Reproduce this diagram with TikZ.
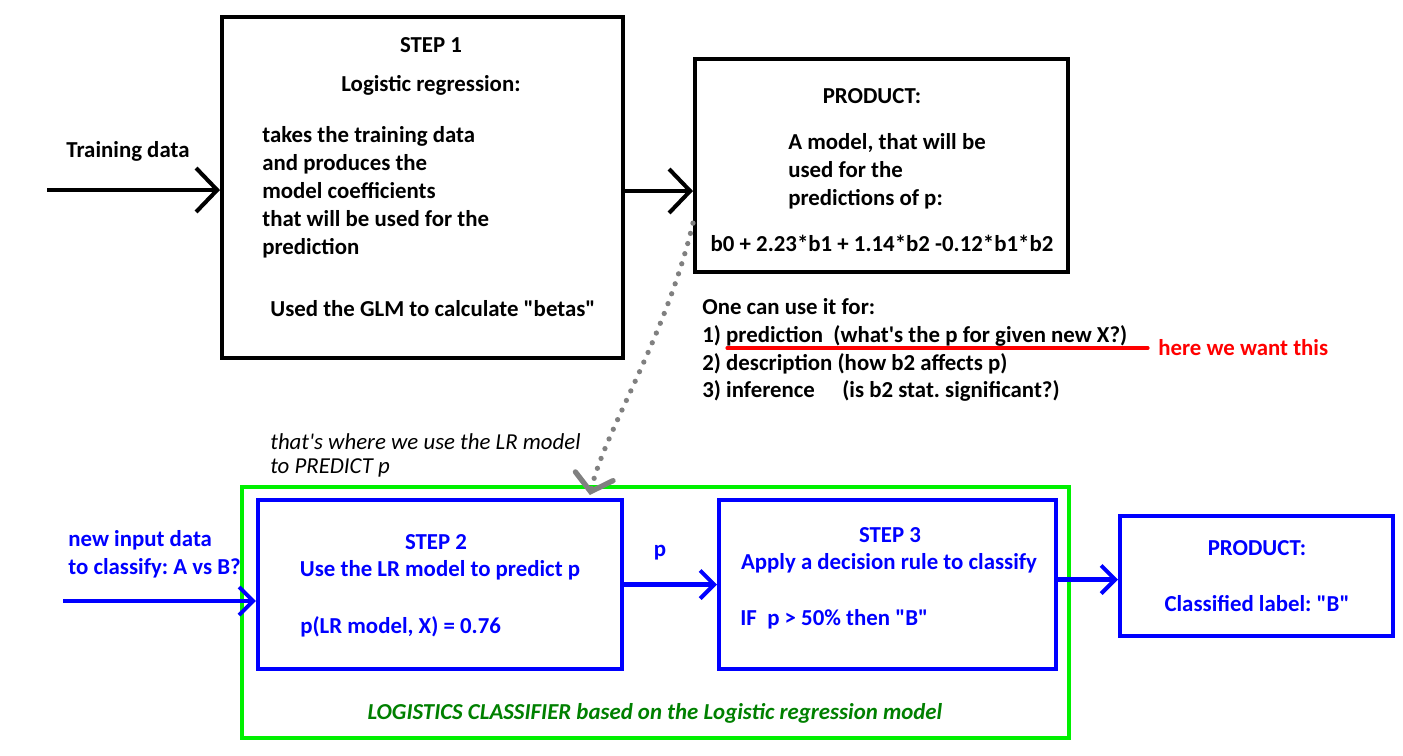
\documentclass[tikz,border=0pt]{standalone}
\usepackage{fontspec}
\setmainfont{Carlito}
\usetikzlibrary{arrows.meta,fit}
\frenchspacing

\definecolor{pureblue}{RGB}{0,0,255}
\definecolor{boxgreen}{RGB}{0,240,0}
\definecolor{textgreen}{RGB}{0,128,0}
\definecolor{dotgray}{RGB}{128,128,128}

\begin{document}
\begin{tikzpicture}[
  x=0.02cm, y=-0.02cm,
  font=\bfseries\fontsize{13}{15.9}\selectfont,
  bbox/.style={draw, line width=2.3pt, inner sep=0pt},
  bluebox/.style={bbox, draw=pureblue},
  txt/.style={inner sep=0pt, align=left},
  bluetxt/.style={txt, text=pureblue},
  arr/.style={-{Straight Barb[length=12pt, width=25pt]}, line width=2.3pt},
  bluearr/.style={-{Straight Barb[length=8pt, width=16pt]}, line width=2.3pt, draw=pureblue},
  dotarr/.style={-{Straight Barb[length=9pt, width=22pt, line cap=round]}, line width=3pt, draw=dotgray,
                 line cap=round, dash pattern=on 0pt off 6pt},
]
  \useasboundingbox (0,0) rectangle (1403,755);

  % ----- Top: training -----
  \node[bbox, fit={(222,17) (623,358)}] (step1) {};
  \node[bbox, fit={(695,59) (1068,272)}] (prod1) {};

  \node[txt] (s1title) at (431,45) {STEP 1};
  \node[txt] (s1sub)   at (431,85) {Logistic regression:};
  \node[txt, anchor=west] (s1body) at (262,192) {takes the training data\\and produces the\\model coefficients\\that will be used for the\\prediction};
  \node[txt, anchor=west] (s1glm) at (270,309) {Used the GLM to calculate \textquotedbl betas\textquotedbl};

  \node[txt] (p1title) at (872,96) {PRODUCT:};
  \node[txt, anchor=west] (p1body) at (788,171) {A model, that will be\\used for the\\predictions of p:};
  \node[txt] (p1form) at (882,243) {b0 + 2.23*b1 + 1.14*b2 -0.12*b1*b2};

  \node[txt] (trainlbl) at (128,151) {Training data};
  \coordinate (trainin) at (47,190);
  \draw[arr] (trainin) -- (trainin -| step1.west);
  \draw[arr] ([yshift=-0.07cm]step1.east) -- ([yshift=-0.07cm]step1.east -| prod1.west);

  % uses list
  \node[txt, anchor=west] (uses) at (702,350) {One can use it for:\\
    1) prediction\ \ (what\textquotesingle s the p for given new X?)\\
    2) description (how b2 affects p)\\
    3) inference\hspace{1.2em}(is b2 stat. significant?)};
  \node[txt, anchor=west, text=red] (want) at (1158,348) {here we want this};
  \coordinate (ulstart) at (727,348);
  \draw[red, line width=1.8pt, line cap=round] (ulstart) -- ([xshift=-0.2cm]want.west);

  % ----- Bottom: classifier -----
  \node[draw=boxgreen, line width=2.3pt, inner sep=0pt, fit={(242,487) (1069,738)}] (lclf) {};
  \node[bluebox, fit={(258,500) (622,669)}] (step2) {};
  \node[bluebox, fit={(719,500) (1056,669)}] (step3) {};
  \node[bluebox, fit={(1120,516) (1393,636)}] (prod2) {};

  \node[txt, font=\itshape\fontsize{13}{13.7}\selectfont, anchor=west] (note) at (270,455)
    {that\textquotesingle s where we use the LR model\\to PREDICT p};
  \draw[dotarr] (prod1.197) .. controls (665,340) and (605,430) .. ([yshift=0.06cm]step2.30);

  \node[bluetxt, anchor=west] (newin) at (68,554) {new input data\\to classify: A vs B?};
  \coordinate (in2) at (63,601);
  \draw[bluearr] (in2) -- (in2 -| step2.west);

  \node[bluetxt] (s2title) at (436,542) {STEP 2};
  \node[bluetxt] (s2sub)   at (440,570) {Use the LR model to predict p};
  \node[bluetxt, anchor=west] (s2calc) at (300,627) {p(LR model, X) = 0.76};

  \node[bluetxt] (plbl) at (660,553) {p};
  \draw[bluearr] (step2.east) -- (step3.west);

  \node[bluetxt] (s3title) at (890,535) {STEP 3};
  \node[bluetxt] (s3sub)   at (889,563) {Apply a decision rule to classify};
  \node[bluetxt, anchor=west] (s3rule) at (740,619) {IF\ \ p > 50\% then \textquotedbl B\textquotedbl};

  \draw[bluearr] ([yshift=0.1cm]step3.east) -- ([yshift=0.1cm]step3.east -| prod2.west);
  \node[bluetxt] (p2title) at (1257,548) {PRODUCT:};
  \node[bluetxt] (p2label) at (1257,604) {Classified label: \textquotedbl B\textquotedbl};

  \node[txt, text=textgreen, font=\bfseries\itshape\fontsize{13}{15.9}\selectfont] (clflbl) at (655,713)
    {LOGISTICS CLASSIFIER based on the Logistic regression model};
\end{tikzpicture}
\end{document}
